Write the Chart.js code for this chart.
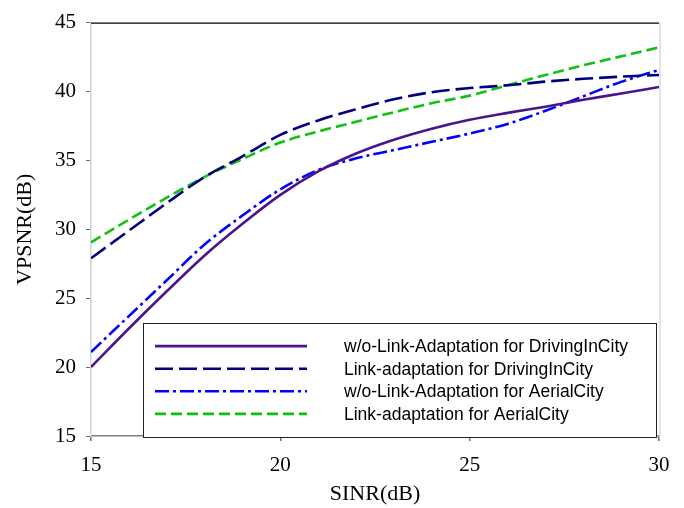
<!DOCTYPE html>
<html>
<head>
<meta charset="utf-8">
<script src="https://cdn.jsdelivr.net/npm/chart.js@4.4.1/dist/chart.umd.min.js"></script>
<style>
html,body{margin:0;padding:0;background:#ffffff;}
canvas{display:block;}
</style>
</head>
<body>
<canvas id="chart" width="684" height="508"></canvas>
<script>
// ---- data ----
const sinr = [15, 16, 17, 18, 19, 20, 21, 22, 23, 24, 25, 26, 27, 28, 29, 30];
const woLinkAdaptDriving = [20.0, 22.8, 25.5, 28.1, 30.4, 32.5, 34.2, 35.5, 36.5, 37.3, 37.95, 38.45, 38.9, 39.4, 39.85, 40.33];
const linkAdaptDriving   = [27.9, 29.9, 31.9, 33.8, 35.3, 36.85, 37.9, 38.72, 39.43, 39.95, 40.25, 40.45, 40.72, 40.92, 41.08, 41.2];
const woLinkAdaptAerial  = [21.1, 23.7, 26.3, 28.9, 31.0, 32.9, 34.3, 35.15, 35.75, 36.35, 36.95, 37.65, 38.6, 39.65, 40.7, 41.56];
const linkAdaptAerial    = [29.05, 30.7, 32.3, 33.8, 35.1, 36.3, 37.1, 37.8, 38.5, 39.15, 39.7, 40.45, 41.2, 41.9, 42.55, 43.2];
const seriesLabels = [
  'w/o-Link-Adaptation for DrivingInCity',
  'Link-adaptation for DrivingInCity',
  'w/o-Link-Adaptation for AerialCity',
  'Link-adaptation for AerialCity'
];
const xTickValues = [15, 20, 25, 30];
const yTickValues = [15, 20, 25, 30, 35, 40, 45];
const xTitle = 'SINR(dB)';
const yTitle = 'VPSNR(dB)';

// ---- styling ----
const serif = '"Liberation Serif", "Times New Roman", Times, serif';
const sans = '"Liberation Sans", Arial, Helvetica, sans-serif';
const styles = [
  {color: '#4a148c', dash: []},
  {color: '#000080', dash: [18, 6]},
  {color: '#0000ff', dash: [14, 4, 3, 4]},
  {color: '#11c011', dash: [11, 5]}
];
const seriesValues = [woLinkAdaptDriving, linkAdaptDriving, woLinkAdaptAerial, linkAdaptAerial];

const datasets = seriesValues.map((vals, i) => ({
  label: seriesLabels[i],
  data: sinr.map((x, j) => ({x: x, y: vals[j]})),
  borderColor: styles[i].color,
  backgroundColor: styles[i].color,
  borderDash: styles[i].dash,
  borderWidth: 2.6,
  pointRadius: 0,
  fill: false,
  cubicInterpolationMode: 'monotone'
}));

// frame (top black line, right light line)
const framePlugin = {
  id: 'framePlugin',
  afterDraw(chart) {
    const {ctx, chartArea: ca} = chart;
    ctx.save();
    ctx.strokeStyle = '#000000';
    ctx.lineWidth = 1.2;
    ctx.beginPath();
    ctx.moveTo(ca.left, ca.top + 0.5);
    ctx.lineTo(ca.right, ca.top + 0.5);
    ctx.stroke();
    ctx.strokeStyle = '#e4e4e4';
    ctx.lineWidth = 2;
    ctx.beginPath();
    ctx.moveTo(ca.right + 1, ca.top);
    ctx.lineTo(ca.right + 1, ca.bottom);
    ctx.stroke();
    ctx.restore();
  }
};

// boxed legend inside the plot area
const boxLegend = {
  id: 'boxLegend',
  afterDatasetsDraw(chart) {
    const {ctx, chartArea: ca} = chart;
    const left = ca.left + 52, top = ca.top + 300.5;
    const right = ca.right - 3, bottom = ca.top + 414.5;
    ctx.save();
    ctx.fillStyle = '#ffffff';
    ctx.fillRect(left, top, right - left, bottom - top);
    ctx.strokeStyle = '#222222';
    ctx.lineWidth = 1;
    ctx.strokeRect(Math.round(left) + 0.5, Math.round(top) + 0.5, Math.round(right - left), Math.round(bottom - top));
    chart.data.datasets.forEach((ds, i) => {
      const y = top + 23 + i * 22.6;
      ctx.strokeStyle = ds.borderColor;
      ctx.lineWidth = 2.6;
      ctx.setLineDash(ds.borderDash || []);
      ctx.beginPath();
      ctx.moveTo(left + 12, y);
      ctx.lineTo(left + 164, y);
      ctx.stroke();
      ctx.setLineDash([]);
      ctx.fillStyle = '#000000';
      ctx.font = '17.5px ' + sans;
      ctx.textAlign = 'left';
      ctx.textBaseline = 'middle';
      ctx.fillText(ds.label, left + 201, y + 1);
    });
    ctx.restore();
  }
};

new Chart(document.getElementById('chart'), {
  type: 'line',
  data: {datasets},
  options: {
    responsive: false,
    animation: false,
    layout: {padding: {top: 14, right: 25, left: 0, bottom: 0}},
    plugins: {
      legend: {display: false},
      tooltip: {enabled: false}
    },
    scales: {
      x: {
        type: 'linear',
        min: 15,
        max: 30,
        afterFit(scale) { scale.height = 72; },
        afterBuildTicks(scale) { scale.ticks = xTickValues.map(v => ({value: v})); },
        grid: {drawOnChartArea: false, drawTicks: true, tickLength: 5, color: '#707070', lineWidth: 1.5},
        border: {display: true, color: '#808080', width: 1.5},
        ticks: {color: '#000000', padding: 12, maxRotation: 0, font: {family: serif, size: 21}},
        title: {display: true, text: xTitle, color: '#000000', padding: {top: 0, bottom: 1}, font: {family: serif, size: 22}}
      },
      y: {
        type: 'linear',
        min: 15,
        max: 45,
        afterFit(scale) { scale.width = 91; },
        afterBuildTicks(scale) { scale.ticks = yTickValues.map(v => ({value: v})); },
        grid: {drawOnChartArea: false, drawTicks: true, tickLength: 5, color: '#707070', lineWidth: 1},
        border: {display: true, color: '#d4d4d4', width: 1.5},
        ticks: {color: '#000000', padding: 10, font: {family: serif, size: 21}},
        title: {display: true, text: yTitle, color: '#000000', padding: {top: 12, bottom: 0}, font: {family: serif, size: 22}}
      }
    }
  },
  plugins: [boxLegend, framePlugin]
});
</script>
</body>
</html>
